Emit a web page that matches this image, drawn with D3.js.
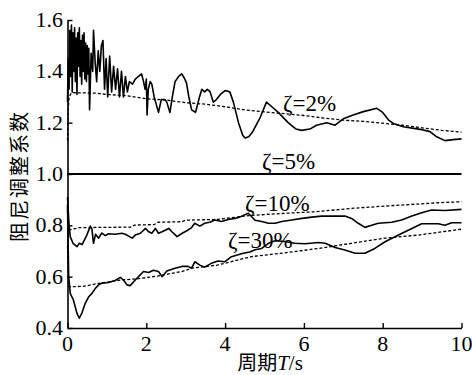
<html><head>
<script src="https://cdn.jsdelivr.net/npm/d3@7"></script>
</head>
<body style="margin:0">
<svg id="c" width="472" height="375"></svg>
<script>
// ---- data ----
const xTicks = [0, 2, 4, 6, 8, 10];
const yTicks = [0.4, 0.6, 0.8, 1.0, 1.2, 1.4, 1.6];
const xTitle = ["周期", "T", "/s"];
const yTitle = "阻尼调整系数";
const labels = ["ζ=2%", "ζ=5%", "ζ=10%", "ζ=30%"];

// ζ=2% actual (solid)
const s2 = [[0.00,1.28],[0.02,1.45],[0.04,1.33],[0.06,1.56],[0.08,1.38],[0.10,1.58],[0.12,1.32],[0.14,1.55],[0.16,1.40],[0.18,1.57],[0.20,1.36],[0.22,1.53],[0.24,1.31],[0.26,1.55],[0.28,1.42],[0.30,1.57],[0.32,1.38],[0.34,1.52],[0.36,1.35],[0.38,1.54],[0.40,1.40],[0.42,1.55],[0.44,1.37],[0.46,1.51],[0.48,1.36],[0.50,1.50],[0.52,1.39],[0.54,1.49],[0.56,1.25],[0.60,1.47],[0.64,1.40],[0.66,1.56],[0.70,1.44],[0.74,1.36],[0.78,1.48],[0.82,1.40],[0.86,1.50],[0.90,1.52],[0.94,1.33],[0.98,1.45],[1.02,1.30],[1.07,1.46],[1.12,1.32],[1.17,1.42],[1.22,1.33],[1.27,1.41],[1.32,1.30],[1.37,1.40],[1.42,1.30],[1.47,1.38],[1.52,1.32],[1.57,1.36],[1.65,1.35],[1.72,1.37],[1.80,1.38],[1.88,1.39],[1.93,1.36],[1.97,1.33],[2.00,1.37],[2.02,1.23],[2.05,1.33],[2.10,1.36],[2.14,1.35],[2.20,1.30],[2.31,1.24],[2.38,1.29],[2.47,1.29],[2.52,1.28],[2.60,1.24],[2.66,1.30],[2.73,1.36],[2.82,1.38],[2.90,1.39],[2.96,1.375],[3.02,1.355],[3.08,1.30],[3.15,1.25],[3.25,1.24],[3.35,1.30],[3.41,1.33],[3.48,1.32],[3.55,1.33],[3.62,1.32],[3.70,1.28],[3.78,1.29],[3.88,1.31],[4.00,1.325],[4.12,1.32],[4.21,1.28],[4.34,1.20],[4.45,1.15],[4.51,1.14],[4.60,1.145],[4.70,1.165],[4.89,1.22],[5.05,1.28],[5.20,1.26],[5.35,1.24],[5.60,1.20],[5.80,1.175],[5.94,1.17],[6.15,1.175],[6.32,1.19],[6.58,1.20],[6.79,1.19],[7.00,1.215],[7.25,1.23],[7.51,1.243],[7.85,1.256],[8.00,1.24],[8.15,1.21],[8.27,1.197],[8.52,1.184],[8.95,1.174],[9.20,1.165],[9.37,1.145],[9.58,1.13],[9.79,1.134],[10.00,1.137]];
// ζ=2% fitted (dashed)
const f2 = [[0.00,1.13],[0.02,1.25],[0.04,1.30],[0.10,1.317],[0.70,1.315],[1.00,1.31],[1.50,1.305],[2.00,1.293],[2.50,1.288],[3.00,1.278],[3.50,1.272],[4.00,1.262],[4.50,1.25],[5.00,1.242],[5.50,1.235],[6.00,1.228],[6.50,1.218],[7.00,1.21],[7.50,1.205],[8.00,1.198],[8.50,1.19],[9.00,1.18],[9.50,1.17],[10.00,1.163]];
// ζ=5%
const s5 = [[0,1.0],[10,1.0]];
// ζ=10% actual (solid)
const s10 = [[0.00,0.91],[0.04,0.80],[0.07,0.756],[0.14,0.73],[0.24,0.717],[0.30,0.73],[0.37,0.725],[0.49,0.762],[0.58,0.797],[0.62,0.785],[0.66,0.73],[0.71,0.765],[0.79,0.75],[0.87,0.77],[0.96,0.76],[1.04,0.767],[1.21,0.765],[1.38,0.769],[1.47,0.765],[1.55,0.758],[1.64,0.75],[1.72,0.762],[1.85,0.769],[1.98,0.788],[2.06,0.775],[2.14,0.769],[2.23,0.788],[2.31,0.769],[2.40,0.775],[2.57,0.788],[2.65,0.775],[2.78,0.756],[2.91,0.769],[3.04,0.78],[3.14,0.79],[3.23,0.808],[3.36,0.797],[3.48,0.808],[3.61,0.812],[3.74,0.821],[3.91,0.815],[4.08,0.823],[4.25,0.827],[4.38,0.833],[4.59,0.847],[4.76,0.82],[4.93,0.815],[5.10,0.808],[5.27,0.808],[5.44,0.815],[5.69,0.821],[5.95,0.827],[6.20,0.832],[6.45,0.836],[7.04,0.836],[7.21,0.827],[7.38,0.808],[7.55,0.792],[7.72,0.80],[7.89,0.808],[8.23,0.812],[8.48,0.821],[8.74,0.836],[8.99,0.849],[9.24,0.86],[9.58,0.858],[10.00,0.862]];
// ζ=10% fitted (dashed)
const f10 = [[0.00,0.86],[0.03,0.782],[0.30,0.791],[1.60,0.793],[1.70,0.801],[2.20,0.803],[2.30,0.812],[2.90,0.814],[3.00,0.82],[3.80,0.823],[4.60,0.838],[5.52,0.847],[6.30,0.853],[7.21,0.866],[8.06,0.875],[8.90,0.883],[9.40,0.888],[10.00,0.892]];
// ζ=30% actual (solid)
const s30 = [[0.00,0.88],[0.03,0.60],[0.07,0.535],[0.15,0.509],[0.24,0.457],[0.30,0.438],[0.37,0.46],[0.45,0.496],[0.54,0.522],[0.62,0.535],[0.71,0.555],[0.79,0.568],[0.88,0.575],[1.04,0.577],[1.21,0.585],[1.34,0.597],[1.42,0.587],[1.51,0.568],[1.59,0.565],[1.68,0.58],[1.80,0.60],[1.93,0.62],[2.06,0.616],[2.18,0.625],[2.31,0.62],[2.40,0.60],[2.52,0.622],[2.73,0.633],[2.90,0.64],[3.06,0.64],[3.15,0.633],[3.23,0.658],[3.36,0.645],[3.48,0.637],[3.65,0.652],[3.82,0.661],[3.99,0.658],[4.16,0.678],[4.46,0.691],[4.63,0.696],[4.76,0.705],[4.93,0.71],[5.10,0.73],[5.27,0.74],[5.52,0.737],[5.77,0.73],[6.03,0.728],[6.37,0.733],[6.54,0.73],[6.79,0.714],[7.04,0.704],[7.30,0.691],[7.55,0.691],[7.80,0.71],[8.06,0.736],[8.40,0.762],[8.74,0.788],[8.99,0.806],[9.41,0.806],[9.58,0.80],[9.75,0.81],[10.00,0.81]];
// ζ=30% fitted (dashed)
const f30 = [[0.00,0.72],[0.03,0.561],[0.40,0.562],[0.79,0.574],[1.35,0.587],[1.80,0.592],[2.30,0.603],[2.90,0.62],[3.16,0.633],[3.80,0.645],[4.67,0.678],[5.52,0.693],[6.37,0.71],[7.21,0.73],[8.06,0.75],[8.90,0.762],[10.00,0.785]];

// ---- chart ----
const svg = d3.select("#c");
const x = d3.scaleLinear().domain([0, 10]).range([67.5, 461.5]);
const y = d3.scaleLinear().domain([0.4, 1.6]).range([328, 20]);
const SERIF = "'Liberation Serif'";
const CJK = "'Noto Sans CJK SC'";

const line = d3.line().x(d => x(d[0])).y(d => y(d[1]));

function drawSeries(data, dashed, w) {
  svg.append("path").datum(data)
    .attr("d", line)
    .attr("fill", "none")
    .attr("stroke", "#000")
    .attr("stroke-width", w)
    .attr("stroke-linejoin", "round")
    .attr("stroke-dasharray", dashed ? "3,2" : null);
}
drawSeries(f2, true, 1.3);
drawSeries(f10, true, 1.3);
drawSeries(f30, true, 1.3);
drawSeries(s2, false, 1.6);
drawSeries(s5, false, 2);
drawSeries(s10, false, 1.6);
drawSeries(s30, false, 1.6);

// axes (drawn manually with scales, labels as separate texts)
const gx = svg.append("g").attr("transform", "translate(0,328)")
  .call(d3.axisBottom(x).tickValues(xTicks).tickFormat("").tickSizeInner(-5).tickSizeOuter(0));
const gy = svg.append("g").attr("transform", "translate(67.5,0)")
  .call(d3.axisLeft(y).tickValues(yTicks).tickFormat("").tickSizeInner(-5).tickSizeOuter(0));
[gx, gy].forEach(g => {
  g.select(".domain").attr("stroke", "#000").attr("stroke-width", 1.6);
  g.selectAll(".tick line").attr("stroke", "#000").attr("stroke-width", 1.4);
});
xTicks.forEach(v => {
  svg.append("text").attr("x", x(v)).attr("y", 351)
    .attr("text-anchor", "middle")
    .style("font-family", SERIF).style("font-size", "22px")
    .text(String(v));
});
yTicks.forEach(v => {
  svg.append("text").attr("x", 63).attr("y", y(v) + 7)
    .attr("text-anchor", "end")
    .style("font-family", SERIF).style("font-size", "22px")
    .text(v.toFixed(1));
});

// y title
svg.append("text")
  .attr("transform", "translate(27,176) rotate(-90)")
  .attr("text-anchor", "middle")
  .style("font-family", CJK)
  .style("font-size", "20px")
  .style("letter-spacing", "2px")
  .text(yTitle);

// x title
const xt = svg.append("text").attr("x", 270).attr("y", 370)
  .attr("text-anchor", "middle").style("font-family", SERIF).style("font-size", "21px");
xt.append("tspan").style("font-family", CJK).style("font-size", "20px").text(xTitle[0]);
xt.append("tspan").style("font-style", "italic").text(xTitle[1]);
xt.append("tspan").text(xTitle[2]);

// annotations
const ann = [[283, 111], [262, 169], [245, 211], [228, 248]];
labels.forEach((s, i) => {
  svg.append("text").attr("x", ann[i][0]).attr("y", ann[i][1])
    .style("font-family", SERIF).style("font-size", "23px")
    .text(s);
});
</script>
</body></html>
